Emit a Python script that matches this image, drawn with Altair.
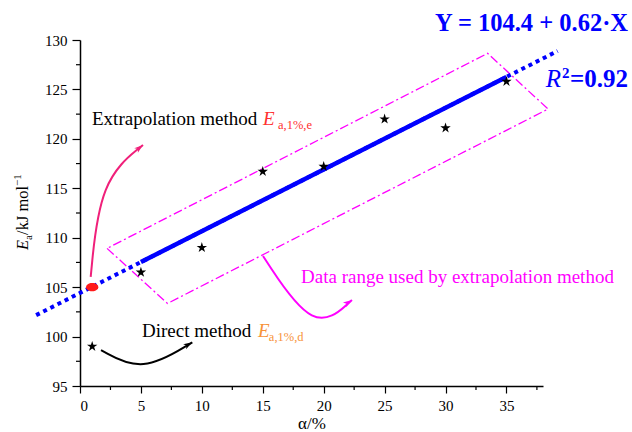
import math
import altair as alt
import pandas as pd

# ---- data ----
alpha = [1, 5, 10, 15, 20, 25, 30, 35]
ea = [99.0, 106.5, 109.0, 116.7, 117.2, 122.0, 121.1, 125.8]
extrap_alpha = [1]
extrap_ea = [105.0]

# fit extents (solid part and dotted extension)
fit_extent = [5, 35]
ext_extent = [-3.6, 39.2]

# dash-dot "data range" box (corners, closed)
box_x = [2.22, 7.18, 38.42, 33.45, 2.22]
box_y = [108.92, 103.35, 123.02, 128.65, 108.92]

# curved annotation arrows (start, control, end)
pink_x = [0.878, 1.641, 5.171]
pink_y = [106.03, 115.84, 119.38]
black_x = [1.724, 5.089, 9.217]
black_y = [98.64, 96.32, 99.42]
mag_x = [15.02, 19.21, 22.32]
mag_y = [108.15, 100.26, 103.70]

x_ticks = [0, 5, 10, 15, 20, 25, 30, 35]
y_ticks = [95, 100, 105, 110, 115, 120, 125, 130]
x_minor = [2.5, 7.5, 12.5, 17.5, 22.5, 27.5, 32.5, 37.5]
y_minor = [97.5, 102.5, 107.5, 112.5, 117.5, 122.5, 127.5]

FONT = "Liberation Serif"
BLUE = "#0000FF"
MAG = "#FF00FF"
PINK = "#F0207A"
RED = "#FF3030"
ORANGE = "#F7923A"

W, H = 463, 346

xs = alt.Scale(domain=[0, 38], nice=False, zero=False)
ys = alt.Scale(domain=[95, 130], nice=False, zero=False)
x_axis = alt.Axis(values=x_ticks, title="α/%", grid=False, tickSize=7, tickColor="black",
                  tickWidth=1.2, domainColor="black", domainWidth=1.5, labelFont=FONT,
                  labelFontSize=15, labelColor="black", labelPadding=5, titleFont=FONT,
                  titleFontSize=17, titleFontWeight="normal", titleColor="black", titlePadding=2)
y_axis = alt.Axis(values=y_ticks, title=None, grid=False, tickSize=8, tickColor="black",
                  tickWidth=1.2, domainColor="black", domainWidth=1.5, labelFont=FONT,
                  labelFontSize=15, labelColor="black", labelPadding=5)
X = alt.X("x:Q", scale=xs, axis=x_axis)
Y = alt.Y("y:Q", scale=ys, axis=y_axis)

pts = pd.DataFrame({"x": alpha, "y": ea})
fit_src = alt.Chart(pts).transform_filter(alt.datum.x >= 5)

box = alt.Chart(pd.DataFrame({"x": box_x, "y": box_y, "i": range(len(box_x))})).mark_line(
    color=MAG, strokeWidth=1.3, strokeDash=[9, 3, 2, 3]
).encode(x=X, y=Y, order="i:Q")

dotted = fit_src.transform_regression("x", "y", extent=ext_extent).mark_line(
    color=BLUE, strokeWidth=4, strokeDash=[4, 4]
).encode(x=X, y=Y)

solid = fit_src.transform_regression("x", "y", extent=fit_extent).mark_line(
    color=BLUE, strokeWidth=4.5
).encode(x=X, y=Y)

star_path = ("M0,-1 L0.2245,-0.309 L0.951,-0.309 L0.363,0.118 L0.588,0.809 L0,0.382 "
             "L-0.588,0.809 L-0.363,0.118 L-0.951,-0.309 L-0.2245,-0.309 Z")
stars = alt.Chart(pts).mark_point(shape=star_path, filled=True, color="black", size=120,
                                  opacity=1).encode(x=X, y=Y)

ell = ["%s%.3f,%.3f" % ("M" if k == 0 else "L", math.cos(k * math.pi / 12), 0.68 * math.sin(k * math.pi / 12))
       for k in range(24)]
ellipse = " ".join(ell) + " Z"
red_pt = alt.Chart(pd.DataFrame({"x": extrap_alpha, "y": extrap_ea})).mark_point(
    shape=ellipse, filled=True, color="#FF1A1A", size=150, opacity=1
).encode(x=X, y=Y)

def curve(xv, yv, color, width):
    df = pd.DataFrame({"x": xv, "y": yv, "i": range(len(xv))})
    return alt.Chart(df).mark_line(color=color, strokeWidth=width, interpolate="basis").encode(
        x=X, y=Y, order="i:Q")

head_path = "M0,0 L0.55,1.7 L0,1.25 L-0.55,1.7 Z"

def head(xv, yv, color, ang):
    df = pd.DataFrame({"x": [xv[-1]], "y": [yv[-1]]})
    return alt.Chart(df).mark_point(shape=head_path, filled=True, color=color, size=110,
                                    angle=ang, opacity=1).encode(x=X, y=Y)

arrows = [
    curve(pink_x, pink_y, PINK, 2), head(pink_x, pink_y, PINK, 51),
    curve(black_x, black_y, "black", 2), head(black_x, black_y, "black", 60),
    curve(mag_x, mag_y, MAG, 2), head(mag_x, mag_y, MAG, 56),
]

def txt(x, y, s, color="black", size=19, style="normal", weight="normal", align="left", angle=0):
    df = pd.DataFrame({"x": [x], "y": [y], "t": [s]})
    return alt.Chart(df).mark_text(
        align=align, baseline="alphabetic", font=FONT, fontSize=size, fontStyle=style,
        fontWeight=weight, color=color, angle=angle
    ).encode(x=X, y=Y, text="t:N")

texts = [
    txt(0.985, 121.4, "Extrapolation method"),
    txt(15.02, 121.4, "E", color=RED, style="italic"),
    txt(16.25, 121.0, "a,1%,e", color=RED, size=12.5),
    txt(5.089, 99.96, "Direct method"),
    txt(14.61, 99.96, "E", color=ORANGE, style="italic"),
    txt(15.50, 99.55, "a,1%,d", color=ORANGE, size=12.5),
    txt(18.14, 105.42, "Data range used by extrapolation method", color=MAG),
    txt(44.98, 130.86, "Y = 104.4 + 0.62·X", color=BLUE, size=24.5, weight="bold", align="right"),
    txt(39.48, 125.25, "R", color=BLUE, size=25, style="italic", align="right"),
    txt(39.56, 126.16, "2", color=BLUE, size=15, weight="bold"),
    txt(44.98, 125.25, "=0.92", color=BLUE, size=25, weight="bold", align="right"),
    # y-axis title pieces (rotated)
    txt(-4.27, 108.76, "E", size=16.5, style="italic", angle=270),
    txt(-3.94, 109.77, "a", size=11, angle=270),
    txt(-4.27, 110.28, "/kJ mol", size=16.5, angle=270),
    txt(-4.84, 115.23, "−1", size=11, angle=270),
]

minor_x = alt.Chart(pd.DataFrame({"x": x_minor})).mark_rule(color="black", strokeWidth=1.2).encode(
    x=X, y=alt.value(H), y2=alt.value(H + 4))
minor_y = alt.Chart(pd.DataFrame({"y": y_minor})).mark_rule(color="black", strokeWidth=1.2).encode(
    y=Y, x=alt.value(0), x2=alt.value(-4))

chart = alt.layer(
    box, dotted, solid, stars, red_pt, *arrows, *texts, minor_x, minor_y
).properties(
    width=W, height=H,
    padding={"left": 80, "top": 40, "right": 89, "bottom": 46},
    autosize=alt.AutoSizeParams(type="none"),
    background="white",
).configure_view(stroke=None)

chart.save("out.html", embed_options={"renderer": "svg", "actions": False})
